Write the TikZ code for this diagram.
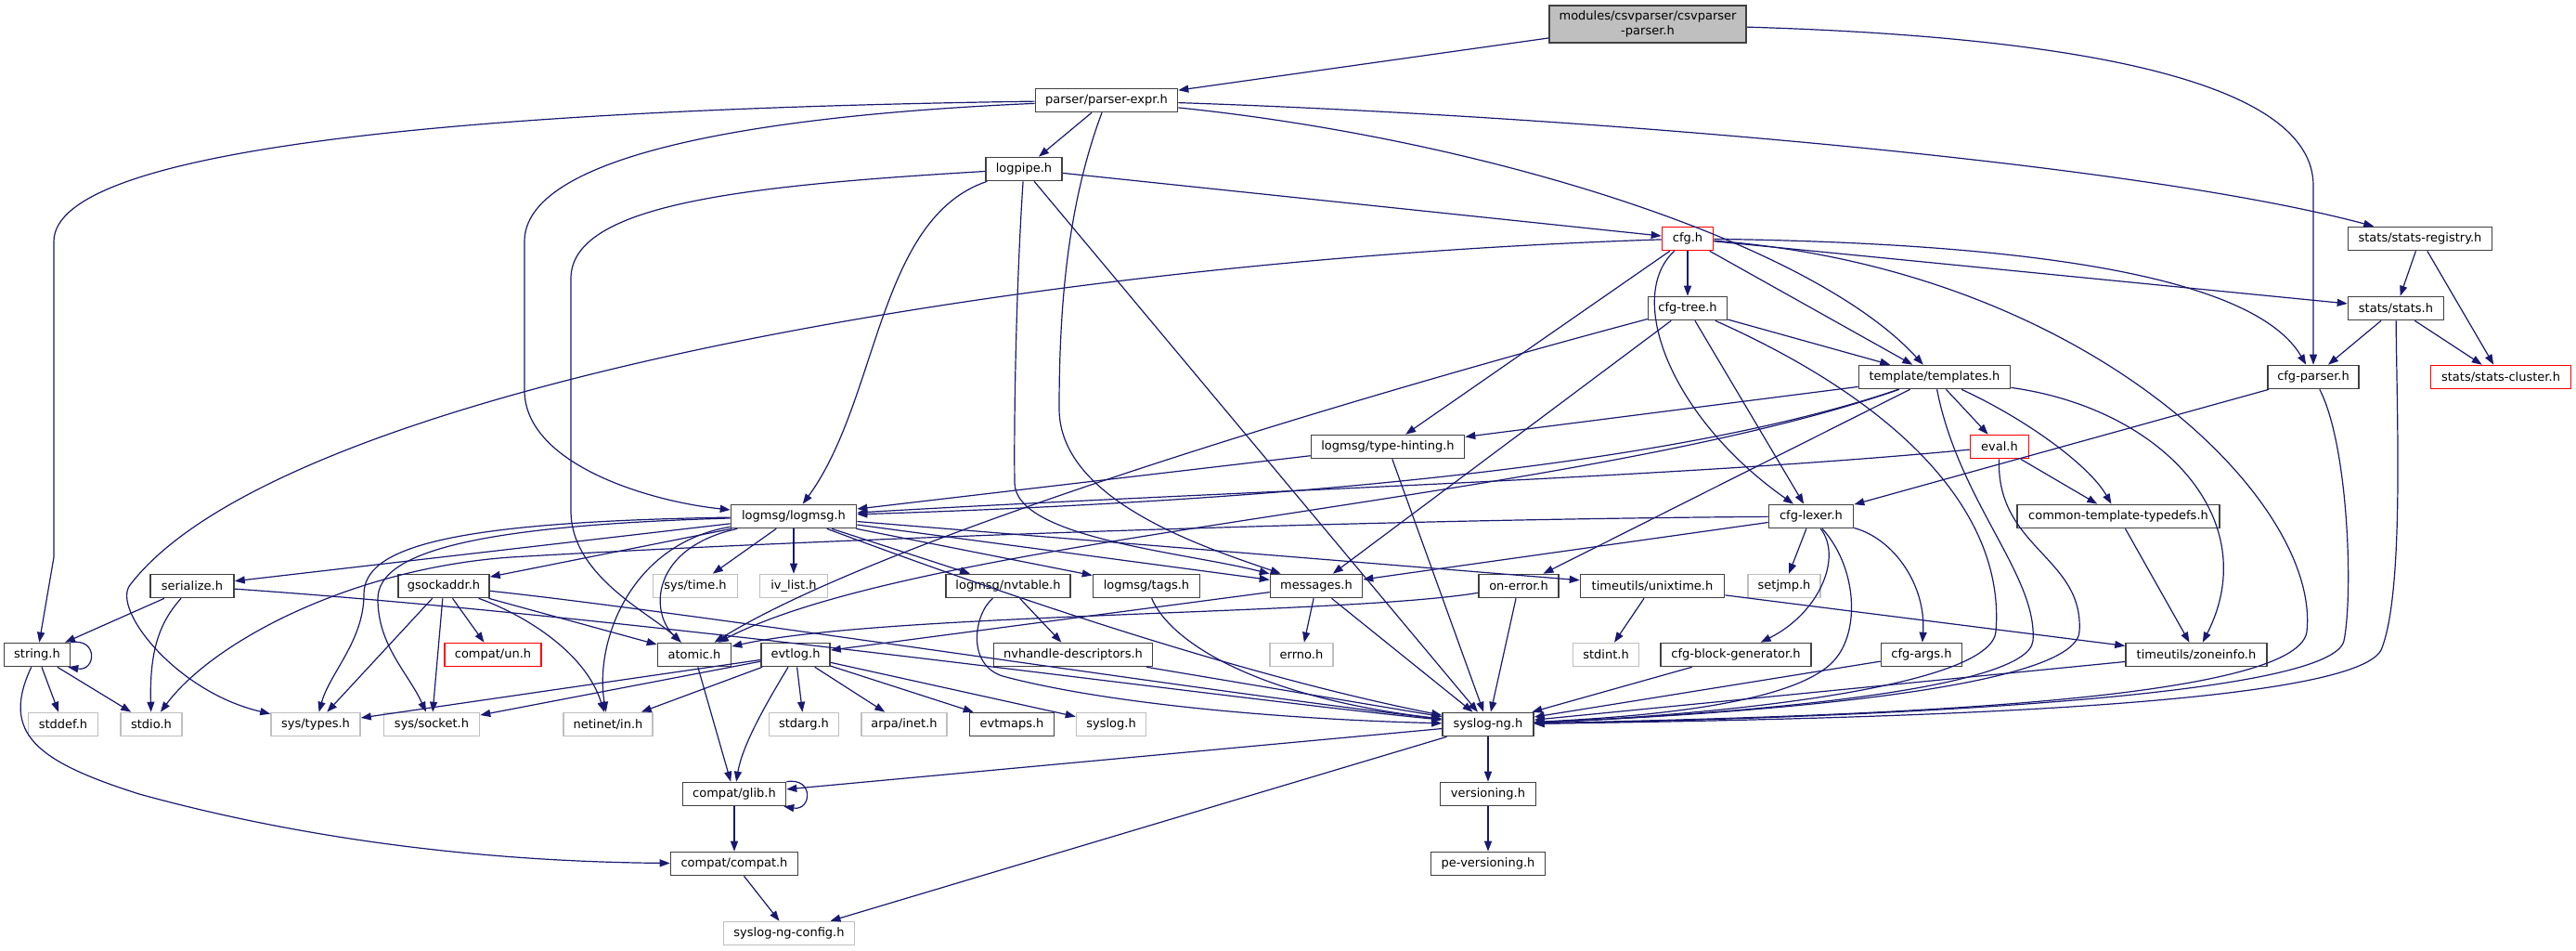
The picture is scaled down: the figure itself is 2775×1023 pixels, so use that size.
\documentclass[tikz,border=0pt]{standalone}
\usepackage{fontspec}
\setmainfont{DejaVu Sans}
\usetikzlibrary{arrows.meta}
\definecolor{edgeblue}{HTML}{191970}
\definecolor{grayborder}{HTML}{BFBFBF}
\definecolor{nodeborder}{HTML}{404040}
\tikzset{
  nd/.style={rectangle, draw=nodeborder, line width=1.6pt, minimum height=25pt, inner sep=0pt, font=\fontsize{13pt}{15.5pt}\selectfont},
  sysnd/.style={nd, draw=grayborder},
  rednd/.style={nd, draw=red},
  rootnd/.style={nd, fill=grayborder, minimum height=40pt, align=center},
  ed/.style={draw=edgeblue, line width=1.2pt, -{Triangle[length=11pt,width=8pt]}},
}
\begin{document}
\begin{tikzpicture}[x=1pt,y=-1pt]
\useasboundingbox[fill=white] (0,0) rectangle (2775,1023);
% nodes
\node[rootnd, minimum width=212pt] (csv) at (1775,26) {modules/csvparser/csvparser\\-parser.h};
\node[nd, minimum width=153pt] (pe) at (1192,108) {parser/parser-expr.h};
\node[nd, minimum width=82pt] (logpipe) at (1103,182) {logpipe.h};
\node[rednd, minimum width=55pt] (cfg) at (1818,257) {cfg.h};
\node[nd, minimum width=155pt] (statsreg) at (2607,257) {stats/stats-registry.h};
\node[nd, minimum width=85pt] (cfgtree) at (1818,332) {cfg-tree.h};
\node[nd, minimum width=103pt] (stats) at (2581,332) {stats/stats.h};
\node[nd, minimum width=163pt] (templates) at (2084,406) {template/templates.h};
\node[nd, minimum width=98pt] (cfgparser) at (2492,406) {cfg-parser.h};
\node[rednd, minimum width=151pt] (statscluster) at (2694,406) {stats/stats-cluster.h};
\node[nd, minimum width=165pt] (typehint) at (1495,481) {logmsg/type-hinting.h};
\node[rednd, minimum width=63pt] (eval) at (2154,481) {eval.h};
\node[nd, minimum width=135pt] (logmsg) at (855,556) {logmsg/logmsg.h};
\node[nd, minimum width=91pt] (cfglexer) at (1951,556) {cfg-lexer.h};
\node[nd, minimum width=218pt] (ctt) at (2282,556) {common-template-typedefs.h};
\node[nd, minimum width=90pt] (serialize) at (207,631) {serialize.h};
\node[nd, minimum width=98pt] (gsockaddr) at (478,631) {gsockaddr.h};
\node[sysnd, minimum width=91pt] (systime) at (749,631) {sys/time.h};
\node[sysnd, minimum width=73pt] (ivlist) at (855,631) {iv\_list.h};
\node[nd, minimum width=134pt] (nvtable) at (1086,631) {logmsg/nvtable.h};
\node[nd, minimum width=115pt] (tags) at (1235,631) {logmsg/tags.h};
\node[nd, minimum width=99pt] (messages) at (1418,631) {messages.h};
\node[nd, minimum width=86pt] (onerror) at (1636,631) {on-error.h};
\node[nd, minimum width=155pt] (unixtime) at (1780,631) {timeutils/unixtime.h};
\node[sysnd, minimum width=78pt] (setjmp) at (1922,631) {setjmp.h};
\node[nd, minimum width=71pt] (string) at (40,705) {string.h};
\node[rednd, minimum width=104pt] (compatun) at (531,705) {compat/un.h};
\node[nd, minimum width=79pt] (atomic) at (748,705) {atomic.h};
\node[nd, minimum width=74pt] (evtlog) at (857,705) {evtlog.h};
\node[nd, minimum width=171pt] (nvhandle) at (1156,705) {nvhandle-descriptors.h};
\node[sysnd, minimum width=68pt] (errno) at (1402,705) {errno.h};
\node[sysnd, minimum width=71pt] (stdint) at (1730,705) {stdint.h};
\node[nd, minimum width=162pt] (cfgblock) at (1870,705) {cfg-block-generator.h};
\node[nd, minimum width=87pt] (cfgargs) at (2070,705) {cfg-args.h};
\node[nd, minimum width=152pt] (zoneinfo) at (2366,705) {timeutils/zoneinfo.h};
\node[sysnd, minimum width=75pt] (stddef) at (68,780) {stddef.h};
\node[sysnd, minimum width=66pt] (stdio) at (163,780) {stdio.h};
\node[sysnd, minimum width=96pt] (systypes) at (340,780) {sys/types.h};
\node[sysnd, minimum width=103pt] (syssocket) at (465,780) {sys/socket.h};
\node[sysnd, minimum width=96pt] (netinet) at (655,780) {netinet/in.h};
\node[sysnd, minimum width=75pt] (stdarg) at (866,780) {stdarg.h};
\node[sysnd, minimum width=92pt] (arpainet) at (974,780) {arpa/inet.h};
\node[nd, minimum width=91pt] (evtmaps) at (1090,780) {evtmaps.h};
\node[sysnd, minimum width=75pt] (syslog) at (1197,780) {syslog.h};
\node[nd, minimum width=98pt] (syslogng) at (1603,780) {syslog-ng.h};
\node[nd, minimum width=111pt] (glib) at (791,855) {compat/glib.h};
\node[nd, minimum width=103pt] (versioning) at (1603,855) {versioning.h};
\node[nd, minimum width=137pt] (compat) at (791,930) {compat/compat.h};
\node[nd, minimum width=123pt] (peversioning) at (1603,930) {pe-versioning.h};
\node[sysnd, minimum width=141pt] (config) at (850,1005) {syslog-ng-config.h};
% edges
\draw[ed] (csv) -- (pe);
\draw[ed] (csv) .. controls (2250,40) and (2492,90) .. (2492,200) -- (cfgparser);
\draw[ed] (pe) -- (logpipe);
\draw[ed] (pe) .. controls (500,118) and (58,160) .. (58,260) -- (58,600) -- (string);
\draw[ed] (pe) .. controls (800,125) and (565,170) .. (565,260) -- (565,420) .. controls (565,500) and (700,540) .. (logmsg);
\draw[ed] (pe) .. controls (1150,220) and (1141,330) .. (1141,440) .. controls (1141,540) and (1300,590) .. (messages);
\draw[ed] (pe) .. controls (1600,150) and (1950,260) .. (templates);
\draw[ed] (pe) .. controls (1700,125) and (2300,175) .. (statsreg);
\draw[ed] (logpipe) -- (cfg);
\draw[ed] (logpipe) .. controls (945,235) and (947,430) .. (logmsg);
\draw[ed] (logpipe) .. controls (1095,300) and (1092,450) .. (1093,520) .. controls (1094,580) and (1280,595) .. (messages);
\draw[ed] (logpipe) -- (syslogng);
\draw[ed] (logpipe) .. controls (800,200) and (615,220) .. (615,300) -- (615,550) .. controls (615,620) and (700,660) .. (atomic);
\draw[ed] (cfg) -- (cfgtree);
\draw[ed] (cfg) -- (stats);
\draw[ed] (cfg) .. controls (2200,262) and (2430,300) .. (cfgparser);
\draw[ed] (cfg) -- (templates);
\draw[ed] (cfg) .. controls (2250,290) and (2500,540) .. (2485,680) .. controls (2475,760) and (1950,772) .. (syslogng);
\draw[ed] (cfg) .. controls (1750,320) and (1800,450) .. (cfglexer);
\draw[ed] (cfg) -- (typehint);
\draw[ed] (cfg) .. controls (1100,280) and (300,420) .. (140,630) .. controls (120,656) and (190,745) .. (systypes);
\draw[ed] (statsreg) -- (stats);
\draw[ed] (statsreg) -- (statscluster);
\draw[ed] (cfgtree) -- (templates);
\draw[ed] (cfgtree) -- (cfglexer);
\draw[ed] (cfgtree) -- (messages);
\draw[ed] (cfgtree) .. controls (1450,430) and (950,580) .. (atomic);
\draw[ed] (cfgtree) .. controls (2060,440) and (2160,560) .. (2150,680) .. controls (2145,740) and (1850,770) .. (syslogng);
\draw[ed] (stats) -- (cfgparser);
\draw[ed] (stats) -- (statscluster);
\draw[ed] (stats) .. controls (2582,450) and (2590,640) .. (2565,700) .. controls (2530,765) and (1950,775) .. (syslogng);
\draw[ed] (templates) -- (typehint);
\draw[ed] (templates) .. controls (1750,520) and (1200,545) .. (logmsg);
\draw[ed] (templates) -- (onerror);
\draw[ed] (templates) .. controls (1700,540) and (1000,575) .. (atomic);
\draw[ed] (templates) -- (eval);
\draw[ed] (templates) .. controls (2180,450) and (2250,500) .. (ctt);
\draw[ed] (templates) .. controls (2330,440) and (2440,560) .. (zoneinfo);
\draw[ed] (templates) .. controls (2110,540) and (2195,620) .. (2190,690) .. controls (2185,745) and (1850,770) .. (syslogng);
\draw[ed] (cfgparser) -- (cfglexer);
\draw[ed] (cfgparser) .. controls (2530,480) and (2535,640) .. (2525,690) .. controls (2510,755) and (1950,774) .. (syslogng);
\draw[ed] (typehint) -- (logmsg);
\draw[ed] (typehint) -- (syslogng);
\draw[ed] (eval) .. controls (1800,515) and (1300,530) .. (logmsg);
\draw[ed] (eval) -- (ctt);
\draw[ed] (eval) .. controls (2150,590) and (2245,600) .. (2240,680) .. controls (2236,745) and (1850,770) .. (syslogng);
\draw[ed] (ctt) -- (zoneinfo);
\draw[ed] (logmsg) -- (serialize);
\draw[ed] (logmsg) -- (gsockaddr);
\draw[ed] (logmsg) -- (systime);
\draw[ed] (logmsg) -- (ivlist);
\draw[ed] (logmsg) -- (nvtable);
\draw[ed] (logmsg) -- (tags);
\draw[ed] (logmsg) -- (messages);
\draw[ed] (logmsg) -- (unixtime);
\draw[ed] (logmsg) .. controls (700,590) and (700,660) .. (atomic);
\draw[ed] (logmsg) .. controls (480,562) and (392,590) .. (392,640) .. controls (392,690) and (355,725) .. (systypes);
\draw[ed] (logmsg) .. controls (510,566) and (407,595) .. (407,645) .. controls (407,695) and (440,725) .. (syssocket);
\draw[ed] (logmsg) .. controls (680,585) and (640,690) .. (netinet);
\draw[ed] (logmsg) .. controls (1000,610) and (1300,720) .. (syslogng);
\draw[ed] (cfglexer) -- (messages);
\draw[ed] (cfglexer) -- (setjmp);
\draw[ed] (cfglexer) .. controls (1400,560) and (800,585) .. (550,600) .. controls (380,612) and (230,690) .. (stdio);
\draw[ed] (cfglexer) .. controls (1985,600) and (1960,660) .. (cfgblock);
\draw[ed] (cfglexer) .. controls (2040,580) and (2075,630) .. (cfgargs);
\draw[ed] (cfglexer) .. controls (2000,610) and (2005,680) .. (1975,712) .. controls (1930,760) and (1760,772) .. (syslogng);
\draw[ed] (serialize) -- (string);
\draw[ed] (serialize) .. controls (172,670) and (161,700) .. (stdio);
\draw[ed] (serialize) .. controls (700,665) and (1300,750) .. (syslogng);
\draw[ed] (gsockaddr) -- (systypes);
\draw[ed] (gsockaddr) -- (syssocket);
\draw[ed] (gsockaddr) -- (compatun);
\draw[ed] (gsockaddr) .. controls (560,660) and (630,700) .. (netinet);
\draw[ed] (gsockaddr) -- (atomic);
\draw[ed] (gsockaddr) .. controls (750,660) and (1300,745) .. (syslogng);
\draw[ed] (nvtable) -- (nvhandle);
\draw[ed] (nvtable) .. controls (1050,660) and (1040,715) .. (1080,728) .. controls (1200,760) and (1400,775) .. (syslogng);
\draw[ed] (tags) .. controls (1260,690) and (1350,750) .. (syslogng);
\draw[ed] (messages) -- (evtlog);
\draw[ed] (messages) -- (errno);
\draw[ed] (messages) -- (syslogng);
\draw[ed] (onerror) .. controls (1450,662) and (950,660) .. (atomic);
\draw[ed] (onerror) -- (syslogng);
\draw[ed] (unixtime) -- (stdint);
\draw[ed] (unixtime) -- (zoneinfo);
\draw[ed] (string.north east) .. controls +(30,-5) and +(30,5) .. ([xshift=-3pt]string.south east);
\draw[ed] (string) -- (stddef);
\draw[ed] (string) -- (stdio);
\draw[ed] (string) .. controls (0,790) and (40,820) .. (150,855) .. controls (350,910) and (550,928) .. (compat);
\draw[ed] (atomic) -- (glib);
\draw[ed] (evtlog) -- (systypes);
\draw[ed] (evtlog) -- (syssocket);
\draw[ed] (evtlog) -- (netinet);
\draw[ed] (evtlog) -- (stdarg);
\draw[ed] (evtlog) -- (arpainet);
\draw[ed] (evtlog) -- (evtmaps);
\draw[ed] (evtlog) -- (syslog);
\draw[ed] (evtlog) .. controls (830,750) and (800,800) .. (glib);
\draw[ed] (nvhandle) -- (syslogng);
\draw[ed] (cfgblock) -- (syslogng);
\draw[ed] (cfgargs) -- (syslogng);
\draw[ed] (zoneinfo) -- (syslogng);
\draw[ed] (syslogng) -- (glib);
\draw[ed] (syslogng) -- (versioning);
\draw[ed] (syslogng) -- (config);
\draw[ed] (glib.north east) .. controls +(30,-5) and +(30,5) .. ([xshift=-3pt]glib.south east);
\draw[ed] (glib) -- (compat);
\draw[ed] (compat) -- (config);
\draw[ed] (versioning) -- (peversioning);
\end{tikzpicture}
\end{document}
